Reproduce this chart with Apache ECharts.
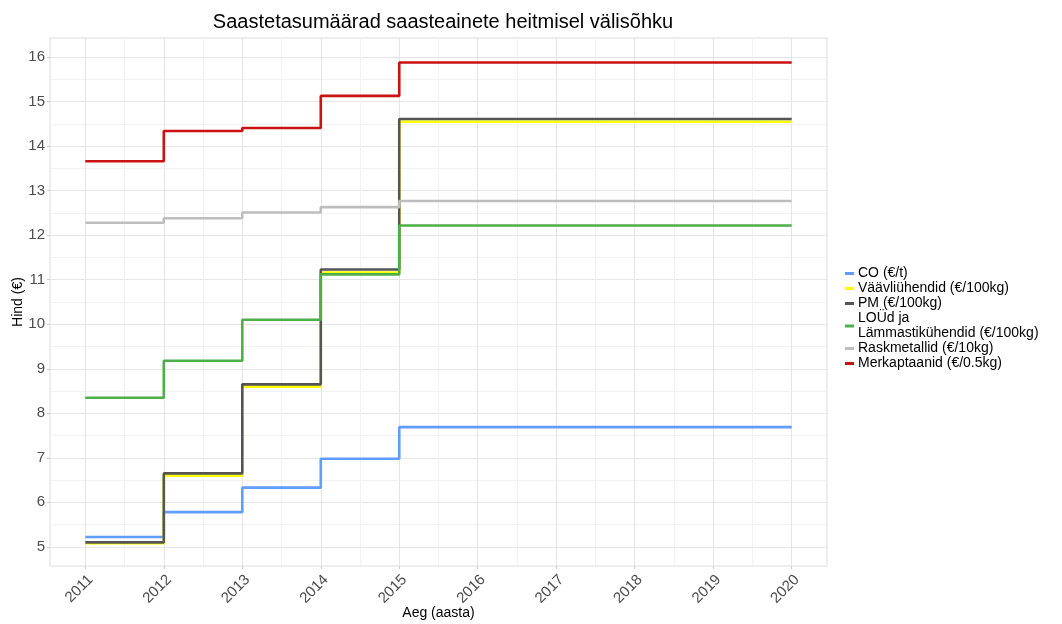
<!DOCTYPE html>
<html lang="et">
<head>
    <meta charset="utf-8">
    <title>Saastetasumäärad</title>
    <script src="https://cdn.jsdelivr.net/npm/echarts@6/dist/echarts.min.js"></script>
    <style>
        html, body { margin: 0; padding: 0; background: #fff; }
        #main { width: 1062px; height: 624px; }
    </style>
</head>
<body>
    <div id="main"></div>
    <script type="text/javascript">
        var years = [2011, 2012, 2013, 2014, 2015, 2016, 2017, 2018, 2019, 2020];
        var yTicks = [5, 6, 7, 8, 9, 10, 11, 12, 13, 14, 15, 16];

        var co =      [5.22, 5.78, 6.33, 6.98, 7.69, 7.69, 7.69, 7.69, 7.69, 7.69];
        var vaavli =  [5.08, 6.60, 8.60, 11.16, 14.55, 14.55, 14.55, 14.55, 14.55, 14.55];
        var pm =      [5.10, 6.65, 8.65, 11.23, 14.61, 14.61, 14.61, 14.61, 14.61, 14.61];
        var lou =     [8.35, 9.18, 10.10, 11.12, 12.22, 12.22, 12.22, 12.22, 12.22, 12.22];
        var raskmet = [12.28, 12.38, 12.51, 12.63, 12.77, 12.77, 12.77, 12.77, 12.77, 12.77];
        var merk =    [13.66, 14.34, 14.41, 15.13, 15.88, 15.88, 15.88, 15.88, 15.88, 15.88];

        var seriesNames = ['CO (€/t)', 'Väävliühendid (€/100kg)', 'PM (€/100kg)',
            'LOÜd ja Lämmastikühendid (€/100kg)', 'Raskmetallid (€/10kg)', 'Merkaptaanid (€/0.5kg)'];
        var seriesData = [co, vaavli, pm, lou, raskmet, merk];
        var colors = ['#619cff', '#ffff00', '#555555', '#4daf4a', '#bebebe', '#cc1111'];

        var xMinor = years.slice(0, -1).map(function (y) { return y + 0.5; });
        var yMinor = yTicks.slice(0, -1).map(function (y) { return y + 0.5; });

        var gridPos = { left: 50, right: 235, top: 38, bottom: 58 };
        var xMin = 2010.55, xMax = 2020.45, yMin = 4.57, yMax = 16.43;

        var myChart = echarts.init(document.getElementById('main'));

        var series = seriesNames.map(function (name, i) {
            return {
                name: name,
                type: 'line',
                step: 'end',
                showSymbol: false,
                symbol: 'none',
                z: 3 + i,
                lineStyle: { width: 2.6, color: colors[i] },
                itemStyle: { color: colors[i] },
                data: years.map(function (y, k) { return [y, seriesData[i][k]]; })
            };
        });

        myChart.setOption({
            animation: false,
            backgroundColor: '#ffffff',
            textStyle: { fontFamily: 'Liberation Sans, Arial, sans-serif' },
            title: {
                text: 'Saastetasumäärad saasteainete heitmisel välisõhku',
                left: 438,
                textAlign: 'center',
                top: 7,
                textStyle: { fontSize: 20, fontWeight: 'normal', color: '#000' }
            },
            legend: {
                orient: 'vertical',
                left: 840,
                top: 261,
                itemGap: 0,
                itemWidth: 9,
                itemHeight: 3,
                icon: 'rect',
                data: seriesNames,
                formatter: function (name) { return name.replace('ja ', 'ja\n'); },
                textStyle: { fontSize: 14, color: '#000', lineHeight: 15, padding: [0, 0, 0, -1] }
            },
            grid: [
                Object.assign({
                    show: true, borderColor: '#dcdcdc', borderWidth: 1,
                    containLabel: false, outerBoundsMode: 'none'
                }, gridPos)
            ],
            xAxis: [
                {
                    type: 'value',
                    min: xMin,
                    max: xMax,
                    axisLine: { show: false },
                    axisTick: { show: true, customValues: years, length: 3, lineStyle: { color: '#cccccc' } },
                    axisLabel: {
                        customValues: years,
                        rotate: 45,
                        fontSize: 15,
                        color: '#4d4d4d',
                        margin: 6,
                        verticalAlign: 'top',
                        formatter: function (v) { return String(v); }
                    },
                    splitLine: { show: true, lineStyle: { color: '#e6e6e6', width: 1 } }
                },
                {
                    type: 'value',
                    min: xMin,
                    max: xMax,
                    position: 'bottom',
                    name: 'Aeg (aasta)',
                    nameLocation: 'middle',
                    nameGap: 40,
                    nameTextStyle: { fontSize: 14, color: '#000' },
                    axisLine: { show: false },
                    axisTick: { show: false, customValues: xMinor },
                    axisLabel: { show: false, customValues: xMinor },
                    splitLine: { show: true, lineStyle: { color: '#f2f2f2', width: 1 } }
                }
            ],
            yAxis: [
                {
                    type: 'value',
                    min: yMin,
                    max: yMax,
                    axisLine: { show: false },
                    axisTick: { show: true, customValues: yTicks, length: 3, lineStyle: { color: '#cccccc' } },
                    axisLabel: { customValues: yTicks, fontSize: 15, color: '#4d4d4d', margin: 5 },
                    splitLine: { show: true, lineStyle: { color: '#e6e6e6', width: 1 } }
                },
                {
                    type: 'value',
                    min: yMin,
                    max: yMax,
                    position: 'left',
                    name: 'Hind (€)',
                    nameLocation: 'middle',
                    nameGap: 25,
                    nameTextStyle: { fontSize: 14, color: '#000' },
                    axisLine: { show: false },
                    axisTick: { show: false, customValues: yMinor },
                    axisLabel: { show: false, customValues: yMinor },
                    splitLine: { show: true, lineStyle: { color: '#f2f2f2', width: 1 } }
                }
            ],
            series: series
        });
    </script>
</body>
</html>
